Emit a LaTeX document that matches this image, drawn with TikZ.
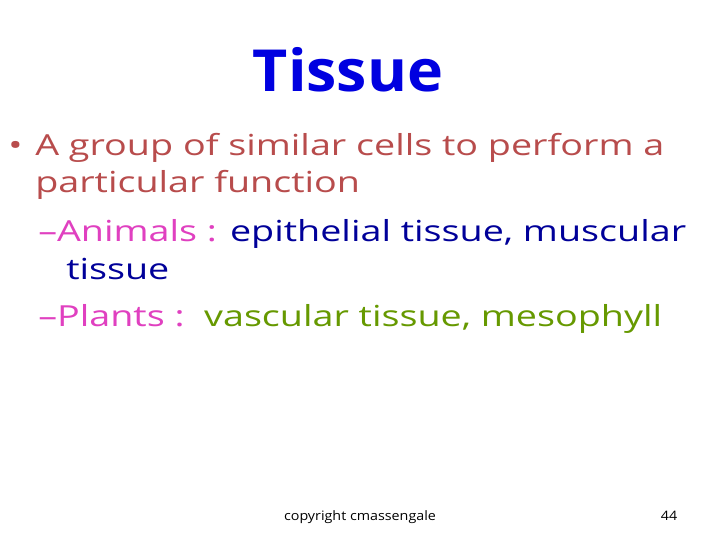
\documentclass[tikz,border=0pt]{standalone}
\usepackage{fontspec}
\setmainfont{Open Sans}
\definecolor{titleblue}{HTML}{0000E0}
\definecolor{brick}{HTML}{B84C4C}
\definecolor{pinkish}{HTML}{E040C0}
\definecolor{navy}{HTML}{000099}
\definecolor{olive}{HTML}{669900}
\tikzset{line/.style={anchor=base west,inner sep=0pt,xscale=1.3,font=\fontsize{29}{32}\selectfont},
 foot/.style={anchor=base,inner sep=0pt,xscale=1.1,font=\fontsize{13}{15}\selectfont}}
\begin{document}
\begin{tikzpicture}[x=1pt,y=-1pt]
\useasboundingbox[fill=white] (0,0) rectangle (720,540);
\node[anchor=base,inner sep=0pt,font=\fontsize{58}{64}\bfseries\selectfont,text=titleblue,xscale=1.05] (title) at (348,92) {Tissue};
\node[line,text=brick] (b) at (8,156) {\textbullet};
\node[line,text=brick] (l1) at (35,156) {A group of similar cells to perform a};
\node[line,text=brick] (l2) at (35,193) {particular function};
\node[line] (l3) at (38,241) {\textcolor{pinkish}{–Animals :} \textcolor{navy}{epithelial tissue, muscular}};
\node[line,text=navy] (l4) at (66,279) {tissue};
\node[line] (l5) at (38,326) {\textcolor{pinkish}{–Plants :}\ \ \textcolor{olive}{vascular tissue, mesophyll}};
\node[foot] (c) at (360,520) {copyright cmassengale};
\node[foot] (n) at (669,520) {44};
\end{tikzpicture}
\end{document}
